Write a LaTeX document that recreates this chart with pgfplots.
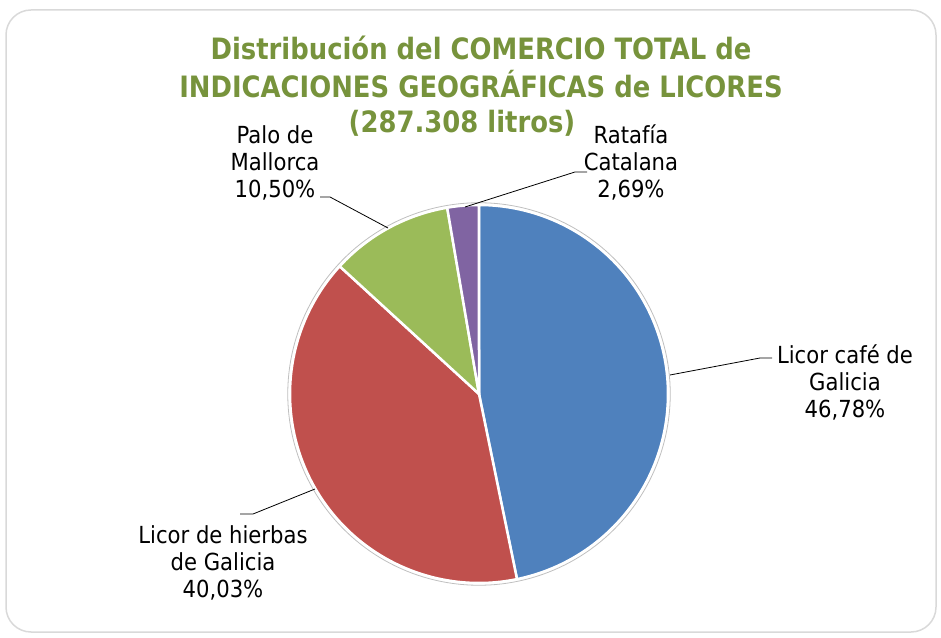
\documentclass[border=0pt]{standalone}
\usepackage{pgfplots}
\pgfplotsset{compat=1.18}
\usepackage{pgfplotstable}
\usepackage{fontspec}
\setmainfont{DejaVu Sans}[FakeStretch=0.88]
\newfontfamily\labelfont{DejaVu Sans}[FakeStretch=0.9]
\definecolor{cblue}{HTML}{4F81BD}
\definecolor{cred}{HTML}{C0504D}
\definecolor{cgreen}{HTML}{9BBB59}
\definecolor{cpurple}{HTML}{8064A2}
\definecolor{titlegreen}{HTML}{77933C}
\pgfplotstableread{
label value
LicorCafe 46.78
LicorHierbas 40.03
Palo 10.50
Ratafia 2.69
}\piedata
\begin{document}
\begin{tikzpicture}
\path[use as bounding box] (0,0) rectangle (941pt,637pt);
\draw[black!15, line width=1.5pt, rounded corners=25pt] (6pt,5pt) rectangle (936pt,627pt);
\pgfplotstablegetelem{0}{value}\of\piedata \pgfmathsetmacro\vA{\pgfplotsretval}
\pgfplotstablegetelem{1}{value}\of\piedata \pgfmathsetmacro\vB{\pgfplotsretval}
\pgfplotstablegetelem{2}{value}\of\piedata \pgfmathsetmacro\vC{\pgfplotsretval}
\pgfplotstablegetelem{3}{value}\of\piedata \pgfmathsetmacro\vD{\pgfplotsretval}
\pgfmathsetmacro\tot{\vA+\vB+\vC+\vD}
\pgfmathsetmacro\aA{90}
\pgfmathsetmacro\aB{\aA-360*(\vA/\tot)}
\pgfmathsetmacro\aC{\aB-360*(\vB/\tot)}
\pgfmathsetmacro\aD{\aC-360*(\vC/\tot)}
\pgfmathsetmacro\aE{\aD-360*(\vD/\tot)}
\begin{axis}[hide axis, scale only axis, width=378pt, height=378pt,
  xmin=-1, xmax=1, ymin=-1, ymax=1, clip=false,
  at={(479pt,243pt)}, anchor=center]
\addplot[fill=cblue, draw=white, line width=2.5pt, domain=\aB:\aA, samples=120] ({cos(x)},{sin(x)}) -- (axis cs:0,0) -- cycle;
\addplot[fill=cred, draw=white, line width=2.5pt, domain=\aC:\aB, samples=120] ({cos(x)},{sin(x)}) -- (axis cs:0,0) -- cycle;
\addplot[fill=cgreen, draw=white, line width=2.5pt, domain=\aD:\aC, samples=60] ({cos(x)},{sin(x)}) -- (axis cs:0,0) -- cycle;
\addplot[fill=cpurple, draw=white, line width=2.5pt, domain=\aE:\aD, samples=30] ({cos(x)},{sin(x)}) -- (axis cs:0,0) -- cycle;
\addplot[draw=black!25, line width=0.8pt, domain=0:360, samples=200] ({1.012*cos(x)},{1.012*sin(x)});
\end{axis}
\node[align=center, text=titlegreen, font=\fontsize{29.4}{38}\selectfont\bfseries] at (481pt,570pt)
  {Distribución del COMERCIO TOTAL de\\INDICACIONES GEOGRÁFICAS de LICORES};
\node[text=titlegreen, font=\fontsize{29.4}{38}\selectfont\bfseries] at (462pt,514pt) {(287.308 litros)};
\begin{scope}[every node/.style={align=center, font=\labelfont\fontsize{23.5}{27}\selectfont}]
\node at (845pt,255pt) {Licor café de\\Galicia\\46,78\%};
\node at (223pt,74pt) {Licor de hierbas\\de Galicia\\40,03\%};
\node at (275pt,474pt) {Palo de\\Mallorca\\10,50\%};
\node at (631pt,475pt) {Ratafía\\Catalana\\2,69\%};
\end{scope}
\draw[line width=0.8pt] (465pt,430pt) -- (575pt,465pt) -- (587pt,465pt);
\draw[line width=0.8pt] (320pt,440pt) -- (330pt,440pt) -- (388pt,409pt);
\draw[line width=0.8pt] (670pt,262pt) -- (760pt,279pt) -- (772pt,279pt);
\draw[line width=0.8pt] (240pt,123pt) -- (253pt,123pt) -- (315pt,148pt);
\end{tikzpicture}
\end{document}
